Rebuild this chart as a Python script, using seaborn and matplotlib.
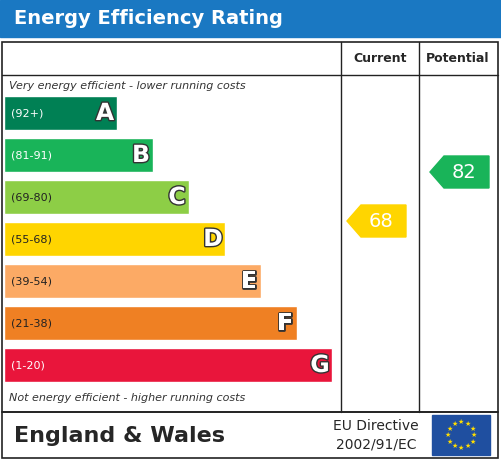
import matplotlib
matplotlib.use("Agg")
import matplotlib.pyplot as plt
import seaborn as sns
import pandas as pd
from matplotlib.patches import Rectangle, Polygon
import numpy as np

bands = ["A", "B", "C", "D", "E", "F", "G"]
ranges = ["(92+)", "(81-91)", "(69-80)", "(55-68)", "(39-54)", "(21-38)", "(1-20)"]
lengths = [113, 149, 185, 221, 257, 293, 328]
colors = ["#008054", "#19b459", "#8dce46", "#ffd500", "#fcaa65", "#ef8023", "#e9153b"]
current = 68
potential = 82

sns.set_theme(style="white")
plt.rcParams['font.family'] = ['DejaVu Sans']
W, H = 502, 461
fig = plt.figure(figsize=(W/100, H/100), dpi=100)
bg = fig.add_axes([0, 0, 1, 1])
bg.set_xlim(0, W); bg.set_ylim(H, 0); bg.axis("off")

# title bar
bg.add_patch(Rectangle((0, 0), W, 37, color="#1a78c2"))
bg.text(14, 19, "Energy Efficiency Rating", color="white", fontsize=14, fontweight="bold", va="center")
# frame
bg.add_patch(Rectangle((2, 42), 496, 370, fill=False, lw=1.2, ec="#222"))
bg.add_patch(Rectangle((2, 412), 496, 46, fill=False, lw=1.2, ec="#222"))
bg.plot([341, 341], [42, 412], color="#222", lw=1)
bg.plot([419, 419], [42, 412], color="#222", lw=1)
bg.plot([2, 498], [75, 75], color="#222", lw=1)
bg.text(380, 59, "Current", ha="center", va="center", fontsize=9, fontweight="bold")
bg.text(458, 59, "Potential", ha="center", va="center", fontsize=9, fontweight="bold")
bg.text(9, 86, "Very energy efficient - lower running costs", fontsize=8, style="italic", color="#333", va="center")
bg.text(9, 398, "Not energy efficient - higher running costs", fontsize=8, style="italic", color="#333", va="center")

# footer
bg.text(14, 436, "England & Wales", fontsize=16, fontweight="bold", va="center")
bg.text(376, 426, "EU Directive", fontsize=10, ha="center", va="center")
bg.text(376, 444, "2002/91/EC", fontsize=10, ha="center", va="center")
bg.add_patch(Rectangle((432, 415), 58, 40, color="#1f4fa0"))
for a in np.linspace(0, 2*np.pi, 12, endpoint=False):
    bg.text(461 + 13*np.cos(a), 435 + 13*np.sin(a), "★", color="#ffdd00", fontsize=5, ha="center", va="center")

# bars
ax = fig.add_axes([4/W, 1-386/H, 337/W, 294/H])
df = pd.DataFrame({"band": bands, "len": lengths})
sns.barplot(data=df, x="len", y="band", hue="band", palette=colors, orient="h", width=0.81, ax=ax, legend=False, saturation=1)
ax.set_xlim(0, 337); ax.axis("off")
for i, (b, r, l) in enumerate(zip(bands, ranges, lengths)):
    ax.text(7, i, r, color="white" if i in (0, 1, 6) else "#222", fontsize=8, va="center", fontweight="bold" if False else "normal")
    ax.text(l - 12, i, b, color="white", fontsize=17, fontweight="bold", ha="center", va="center",
            path_effects=[__import__("matplotlib.patheffects", fromlist=["x"]).withStroke(linewidth=2, foreground="#333")])

def arrow(x0, val, col):
    y = 221 - (val - 68) * 3.5
    h = 16
    bg.add_patch(Polygon([(x0, y), (x0 + 14, y - h), (x0 + 59, y - h), (x0 + 59, y + h), (x0 + 14, y + h)], color=col))
    bg.text(x0 + 34, y, str(val), color="white", fontsize=14, ha="center", va="center")

def color_for(v):
    lows = [92, 81, 69, 55, 39, 21, 1]
    for lo, c in zip(lows, colors):
        if v >= lo:
            return c
arrow(347, current, color_for(current))
arrow(430, potential, color_for(potential))

fig.savefig("out.png", dpi=100)
